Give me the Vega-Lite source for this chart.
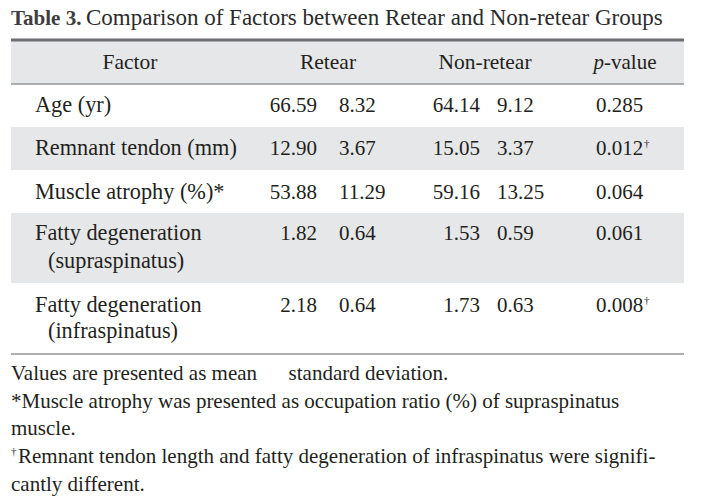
{
  "$schema": "https://vega.github.io/schema/vega-lite/v6.json",
  "autosize": {"type": "fit", "contains": "padding"},
  "width": 704,
  "height": 504,
  "padding": 0,
  "background": "white",
  "config": {"view": {"stroke": null}, "axis": {"disable": true}},
  "datasets": {
    "bands": [
      {"from": 0, "to": 15, "top": 1, "bottom": 3},
      {"from": 0, "to": 15, "top": 5, "bottom": 7},
      {"from": 0, "to": 15, "top": 9, "bottom": 12}
    ],
    "rules": [
      {"from": 0, "to": 15, "line": 1, "kind": "top"},
      {"from": 0, "to": 15, "line": 3, "kind": "mid"},
      {"from": 0, "to": 15, "line": 15, "kind": "bottom"}
    ],
    "cells": [
      {"line": 0, "col": 0, "role": "titlebold", "text": "Table 3."},
      {"line": 0, "col": 4, "role": "title", "text": "Comparison of Factors between Retear and Non-retear Groups"},
      {"line": 2, "col": 5, "role": "header", "text": "Factor"},
      {"line": 2, "col": 7, "role": "header", "text": "Retear"},
      {"line": 2, "col": 10, "role": "header", "text": "Non-retear"},
      {"line": 2, "col": 13, "role": "headeritalic", "text": "p"},
      {"line": 2, "col": 13, "role": "left", "text": "-value"},
      {"line": 4, "col": 2, "role": "label", "text": "Age (yr)"},
      {"line": 6, "col": 2, "role": "label", "text": "Remnant tendon (mm)"},
      {"line": 8, "col": 2, "role": "label", "text": "Muscle atrophy (%)*"},
      {"line": 10, "col": 2, "role": "label", "text": "Fatty degeneration"},
      {"line": 11, "col": 3, "role": "label", "text": "(supraspinatus)"},
      {"line": 13, "col": 2, "role": "label", "text": "Fatty degeneration"},
      {"line": 14, "col": 3, "role": "label", "text": "(infraspinatus)"},
      {"line": 4, "col": 6, "role": "mean", "text": "66.59"},
      {"line": 6, "col": 6, "role": "mean", "text": "12.90"},
      {"line": 8, "col": 6, "role": "mean", "text": "53.88"},
      {"line": 10, "col": 6, "role": "mean", "text": "1.82"},
      {"line": 13, "col": 6, "role": "mean", "text": "2.18"},
      {"line": 4, "col": 8, "role": "left", "text": "8.32"},
      {"line": 6, "col": 8, "role": "left", "text": "3.67"},
      {"line": 8, "col": 8, "role": "left", "text": "11.29"},
      {"line": 10, "col": 8, "role": "left", "text": "0.64"},
      {"line": 13, "col": 8, "role": "left", "text": "0.64"},
      {"line": 4, "col": 9, "role": "mean", "text": "64.14"},
      {"line": 6, "col": 9, "role": "mean", "text": "15.05"},
      {"line": 8, "col": 9, "role": "mean", "text": "59.16"},
      {"line": 10, "col": 9, "role": "mean", "text": "1.53"},
      {"line": 13, "col": 9, "role": "mean", "text": "1.73"},
      {"line": 4, "col": 11, "role": "left", "text": "9.12"},
      {"line": 6, "col": 11, "role": "left", "text": "3.37"},
      {"line": 8, "col": 11, "role": "left", "text": "13.25"},
      {"line": 10, "col": 11, "role": "left", "text": "0.59"},
      {"line": 13, "col": 11, "role": "left", "text": "0.63"},
      {"line": 4, "col": 12, "role": "left", "text": "0.285"},
      {"line": 6, "col": 12, "role": "left", "text": "0.012"},
      {"line": 8, "col": 12, "role": "left", "text": "0.064"},
      {"line": 10, "col": 12, "role": "left", "text": "0.061"},
      {"line": 13, "col": 12, "role": "left", "text": "0.008"},
      {"line": 6, "col": 14, "role": "sup", "text": "†"},
      {"line": 13, "col": 14, "role": "sup", "text": "†"},
      {"line": 16, "col": 0, "role": "left", "text": "Values are presented as mean \u00a0\u00a0\u00a0\u00a0 standard deviation."},
      {"line": 17, "col": 0, "role": "left", "text": "*Muscle atrophy was presented as occupation ratio (%) of supraspinatus"},
      {"line": 18, "col": 0, "role": "left", "text": "muscle."},
      {"line": 19, "col": 0, "role": "sup", "text": "†"},
      {"line": 19, "col": 1, "role": "left", "text": "Remnant tendon length and fatty degeneration of infraspinatus were signifi-"},
      {"line": 20, "col": 0, "role": "left", "text": "cantly different."}
    ]
  },
  "layer": [
    {
      "data": {"name": "bands"},
      "mark": {"type": "rect", "color": "#e6e7e8"},
      "encoding": {
        "x": {"field": "from", "type": "quantitative", "axis": null, "scale": {"domain": [0,1,2,3,4,5,6,7,8,9,10,11,12,13,14,15], "range": [11,18,35,48,86,130,317,328,339,480,485,497,596,604,644,684], "nice": false, "zero": false}},
        "x2": {"field": "to"},
        "y": {"field": "top", "type": "quantitative", "axis": null, "scale": {"domain": [0,1,2,3,4,5,6,7,8,9,10,11,12,13,14,15,16,17,18,19,20], "range": [25,40,69,84,112,127,155,170,199,213,240,268,283,312,338,354,380,408,435,463,491], "nice": false, "zero": false}},
        "y2": {"field": "bottom"}
      }
    },
    {
      "data": {"name": "rules"},
      "transform": [{"filter": "datum.kind == 'top'"}],
      "mark": {"type": "rule", "color": "#6d6e71", "strokeWidth": 3},
      "encoding": {
        "x": {"field": "from", "type": "quantitative"},
        "x2": {"field": "to"},
        "y": {"field": "line", "type": "quantitative"}
      }
    },
    {
      "data": {"name": "rules"},
      "transform": [{"filter": "datum.kind != 'top'"}],
      "mark": {"type": "rule", "color": "#939598", "strokeWidth": 1.5},
      "encoding": {
        "x": {"field": "from", "type": "quantitative"},
        "x2": {"field": "to"},
        "y": {"field": "line", "type": "quantitative"}
      }
    },
    {
      "data": {"name": "cells"},
      "transform": [{"filter": "datum.role == 'left'"}],
      "mark": {"type": "text", "align": "left", "baseline": "alphabetic", "font": "Liberation Serif", "fontSize": 21, "color": "#231f20"},
      "encoding": {
        "x": {"field": "col", "type": "quantitative"},
        "y": {"field": "line", "type": "quantitative"},
        "text": {"field": "text"}
      }
    },
    {
      "data": {"name": "cells"},
      "transform": [{"filter": "datum.role == 'label'"}],
      "mark": {"type": "text", "align": "left", "baseline": "alphabetic", "font": "Liberation Serif", "fontSize": 22.3, "color": "#231f20"},
      "encoding": {
        "x": {"field": "col", "type": "quantitative"},
        "y": {"field": "line", "type": "quantitative"},
        "text": {"field": "text"}
      }
    },
    {
      "data": {"name": "cells"},
      "transform": [{"filter": "datum.role == 'title'"}],
      "mark": {"type": "text", "align": "left", "baseline": "alphabetic", "font": "Liberation Serif", "fontSize": 23, "color": "#2b2b2b"},
      "encoding": {
        "x": {"field": "col", "type": "quantitative"},
        "y": {"field": "line", "type": "quantitative"},
        "text": {"field": "text"}
      }
    },
    {
      "data": {"name": "cells"},
      "transform": [{"filter": "datum.role == 'mean'"}],
      "mark": {"type": "text", "align": "right", "baseline": "alphabetic", "font": "Liberation Serif", "fontSize": 21, "color": "#231f20"},
      "encoding": {
        "x": {"field": "col", "type": "quantitative"},
        "y": {"field": "line", "type": "quantitative"},
        "text": {"field": "text"}
      }
    },
    {
      "data": {"name": "cells"},
      "transform": [{"filter": "datum.role == 'header'"}],
      "mark": {"type": "text", "align": "center", "baseline": "alphabetic", "font": "Liberation Serif", "fontSize": 21.5, "color": "#231f20"},
      "encoding": {
        "x": {"field": "col", "type": "quantitative"},
        "y": {"field": "line", "type": "quantitative"},
        "text": {"field": "text"}
      }
    },
    {
      "data": {"name": "cells"},
      "transform": [{"filter": "datum.role == 'headeritalic'"}],
      "mark": {"type": "text", "align": "right", "baseline": "alphabetic", "font": "Liberation Serif", "fontStyle": "italic", "fontSize": 21, "color": "#231f20"},
      "encoding": {
        "x": {"field": "col", "type": "quantitative"},
        "y": {"field": "line", "type": "quantitative"},
        "text": {"field": "text"}
      }
    },
    {
      "data": {"name": "cells"},
      "transform": [{"filter": "datum.role == 'titlebold'"}],
      "mark": {"type": "text", "align": "left", "baseline": "alphabetic", "font": "Liberation Serif", "fontWeight": "bold", "fontSize": 21, "color": "#3d3d3d"},
      "encoding": {
        "x": {"field": "col", "type": "quantitative"},
        "y": {"field": "line", "type": "quantitative"},
        "text": {"field": "text"}
      }
    },
    {
      "data": {"name": "cells"},
      "transform": [{"filter": "datum.role == 'sup'"}],
      "mark": {"type": "text", "align": "left", "baseline": "alphabetic", "font": "Liberation Serif", "fontSize": 11, "dy": -8, "color": "#231f20"},
      "encoding": {
        "x": {"field": "col", "type": "quantitative"},
        "y": {"field": "line", "type": "quantitative"},
        "text": {"field": "text"}
      }
    }
  ]
}
